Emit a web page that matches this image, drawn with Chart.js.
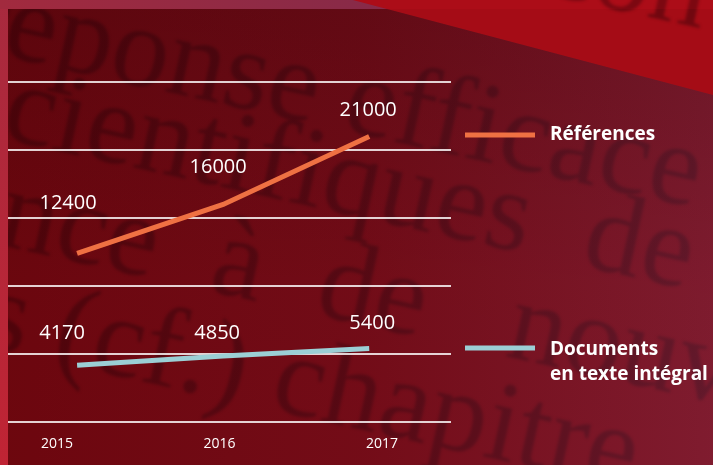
<!DOCTYPE html>
<html><head><meta charset="utf-8">
<script src="https://cdn.jsdelivr.net/npm/chart.js@4/dist/chart.umd.min.js"></script>
<style>
html,body{margin:0;padding:0;background:#a50c16;overflow:hidden}
#wrap{width:713px;height:465px;position:relative}
canvas{display:block}
</style>
</head><body>
<div id="wrap"><canvas id="c" width="713" height="465"></canvas></div>
<script>
// ---- data ----
const years = [2015, 2016, 2017];
const references = [12400, 16000, 21000];
const documents = [4170, 4850, 5400];
const yTicks = [0, 5000, 10000, 15000, 20000, 25000];
const seriesRef = 'Références';
const seriesDoc = ['Documents', 'en texte intégral'];

// ---- style ----
const ORANGE = '#ef7143';
const BLUE = '#9bcfd5';
const labelOffsets = [
  [[-9, -50], [-5, -37], [-1, -26]],
  [[-15, -32], [-6, -23], [3, -25]]
];
const bgWords = [
  {t: 'con', x: 552, y: -126},
  {t: 'réponse efficace', x: -38, y: 55},
  {t: 'scientifiques  de', x: -45, y: 138},
  {t: 'nce  à  de   nouv', x: -5, y: 245},
  {t: 's (cf.) chapitre', x: -22, y: 350}
];

const bgPlugin = {
  id: 'bg',
  beforeDraw(chart) {
    const ctx = chart.ctx, W = chart.width, H = chart.height;
    ctx.save();
    ctx.fillStyle = '#a50c16';
    ctx.fillRect(0, 0, W, H);
    // blurred serif words of the photo
    ctx.filter = 'blur(1.5px)';
    ctx.fillStyle = 'rgba(30,0,6,0.38)';
    ctx.font = '115px "Liberation Serif"';
    const ang = Math.atan(0.22);
    bgWords.forEach(w => {
      ctx.save();
      ctx.translate(0, w.y);
      ctx.rotate(ang);
      ctx.fillText(w.t, w.x, 0);
      ctx.restore();
    });
    ctx.filter = 'none';
    // dark overlay
    ctx.beginPath();
    ctx.moveTo(8, 9); ctx.lineTo(387, 9); ctx.lineTo(713, 95); ctx.lineTo(713, H); ctx.lineTo(8, H); ctx.closePath();
    let g = ctx.createLinearGradient(8, 0, 713, 0);
    g.addColorStop(0, 'rgba(40,0,5,0.45)');
    g.addColorStop(0.5, 'rgba(55,12,25,0.45)');
    g.addColorStop(1, 'rgba(85,45,75,0.47)');
    ctx.fillStyle = g; ctx.fill();
    g = ctx.createLinearGradient(0, 9, 0, H);
    g.addColorStop(0, 'rgba(20,0,5,0.18)');
    g.addColorStop(0.6, 'rgba(20,0,5,0.02)');
    g.addColorStop(1, 'rgba(20,0,5,0)');
    ctx.fillStyle = g; ctx.fill();
    // top band
    ctx.beginPath();
    ctx.moveTo(0, 0); ctx.lineTo(353, 0); ctx.lineTo(387, 9); ctx.lineTo(0, 9); ctx.closePath();
    g = ctx.createLinearGradient(0, 0, 380, 0);
    g.addColorStop(0, '#a22a3e'); g.addColorStop(1, '#872a48');
    ctx.fillStyle = g; ctx.fill();
    ctx.beginPath();
    ctx.moveTo(353, 0); ctx.lineTo(713, 0); ctx.lineTo(713, 9); ctx.lineTo(387, 9); ctx.closePath();
    ctx.fillStyle = 'rgba(255,30,50,0.08)'; ctx.fill();
    // left strip
    g = ctx.createLinearGradient(0, 0, 0, H);
    g.addColorStop(0, '#a82a3e'); g.addColorStop(1, '#c02434');
    ctx.fillStyle = g; ctx.fillRect(0, 9, 8, H - 9);
    ctx.restore();
  }
};

const labelPlugin = {
  id: 'vlabels',
  afterDatasetsDraw(chart) {
    const ctx = chart.ctx;
    ctx.save();
    ctx.fillStyle = '#ffffff';
    ctx.font = '20px "Open Sans"';
    ctx.textAlign = 'center';
    ctx.textBaseline = 'middle';
    chart.data.datasets.forEach((ds, i) => {
      const meta = chart.getDatasetMeta(i);
      meta.data.forEach((pt, j) => {
        const o = labelOffsets[i][j];
        ctx.fillText(String(ds.data[j].y), pt.x + o[0], pt.y + o[1]);
      });
    });
    ctx.restore();
  }
};

const legendPlugin = {
  id: 'customLegend',
  afterDraw(chart) {
    const ctx = chart.ctx;
    ctx.save();
    ctx.lineWidth = 5;
    ctx.lineCap = 'butt';
    ctx.strokeStyle = ORANGE;
    ctx.beginPath(); ctx.moveTo(465, 135); ctx.lineTo(535, 135); ctx.stroke();
    ctx.strokeStyle = BLUE;
    ctx.beginPath(); ctx.moveTo(465, 348); ctx.lineTo(535, 348); ctx.stroke();
    ctx.fillStyle = '#ffffff';
    ctx.font = 'bold 19px "Open Sans"';
    ctx.textAlign = 'left';
    ctx.textBaseline = 'middle';
    ctx.fillText(seriesRef, 550, 135);
    ctx.fillText(seriesDoc[0], 550, 350);
    ctx.fillText(seriesDoc[1], 550, 375);
    ctx.restore();
  }
};

const toPts = arr => arr.map((v, i) => ({x: years[i], y: v}));

new Chart(document.getElementById('c'), {
  type: 'line',
  data: {
    datasets: [
      {label: seriesRef, data: toPts(references), borderColor: ORANGE, borderWidth: 5, tension: 0, pointRadius: 0, borderCapStyle: 'butt', clip: false},
      {label: seriesDoc.join(' '), data: toPts(documents), borderColor: BLUE, borderWidth: 5, tension: 0, pointRadius: 0, borderCapStyle: 'butt', clip: false}
    ]
  },
  options: {
    responsive: false,
    animation: false,
    layout: {padding: {left: 8, right: 262, top: 82, bottom: 0}},
    plugins: {legend: {display: false}, tooltip: {enabled: false}},
    scales: {
      x: {type: 'linear', display: false, min: 2014.527, max: 2017.56},
      x2: {
        type: 'linear', position: 'bottom', min: 2014.698, max: 2017.425,
        afterBuildTicks: s => { s.ticks = years.map(v => ({value: v})); },
        afterFit: s => { s.height = 43; },
        grid: {display: false}, border: {display: false},
        ticks: {color: '#ffffff', font: {family: 'Open Sans', size: 14}, padding: 6, maxRotation: 0, autoSkip: false, callback: v => String(v)}
      },
      y: {
        min: yTicks[0], max: yTicks[yTicks.length - 1],
        afterBuildTicks: s => { s.ticks = yTicks.map(v => ({value: v})); },
        afterFit: s => { s.width = 0; },
        ticks: {display: false},
        border: {display: false},
        grid: {color: 'rgba(255,255,255,0.82)', lineWidth: 2, drawTicks: false}
      }
    }
  },
  plugins: [bgPlugin, labelPlugin, legendPlugin]
});
</script>
</body></html>
